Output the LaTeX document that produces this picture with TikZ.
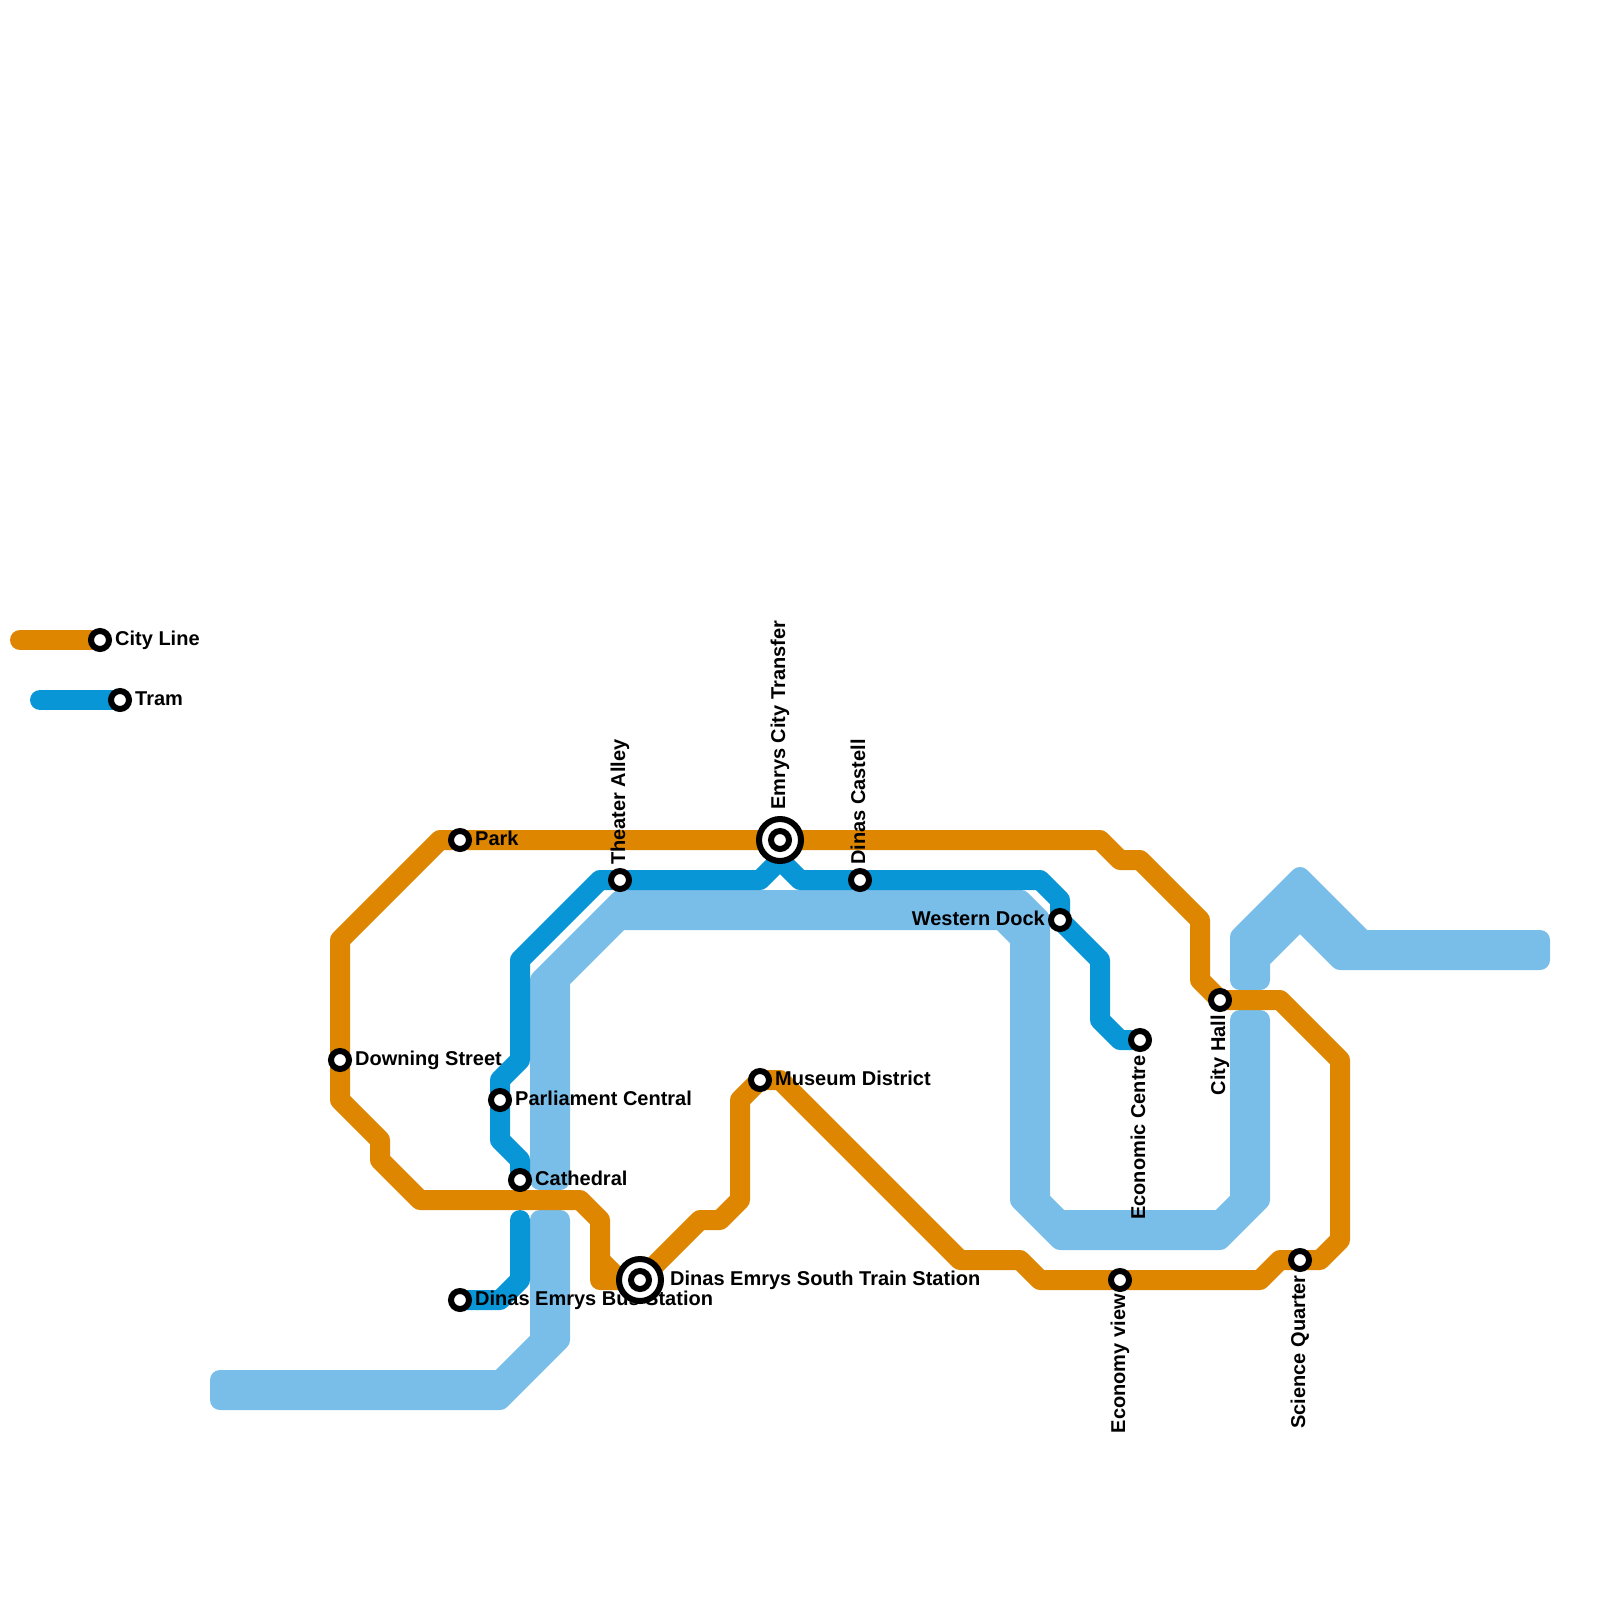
\documentclass[tikz,border=0pt]{standalone}
\usepackage{fontspec}
\setmainfont{Liberation Sans}
\usepackage{tikz}
\usetikzlibrary{positioning}
\definecolor{cityline}{HTML}{DF8600}
\definecolor{tramline}{HTML}{0896D7}
\definecolor{wideline}{HTML}{79BDE9}

\begin{document}
\begin{tikzpicture}[
    x=1pt, y=-1pt,
    city/.style={draw=cityline, line width=20pt, line cap=round, line join=round},
    tram/.style={draw=tramline, line width=20pt, line cap=round, line join=round},
    wide/.style={draw=wideline, line width=20pt, line cap=round, line join=round},
    widemid/.style={wide, line cap=rect},
    stop/.style={circle, draw=black, fill=white, line width=6pt, minimum size=18pt, inner sep=0pt},
    bigstop/.style={circle, draw=black, fill=white, line width=6pt, minimum size=42pt, inner sep=0pt},
    stoplabel/.style={inner sep=0pt, text height=14pt, text depth=0pt, font=\fontsize{20}{24}\selectfont\bfseries},
    uplabel/.style={stoplabel, rotate=90, anchor=west},
    downlabel/.style={stoplabel, rotate=90, anchor=east}
]
\useasboundingbox (0,0) rectangle (1600,1600);

\coordinate (cityleg) at (100,640);
\coordinate (tramleg) at (120,700);
\coordinate (park) at (460,840);
\coordinate (downing) at (340,1060);
\coordinate (parliament) at (500,1100);
\coordinate (cathedral) at (520,1180);
\coordinate (busstation) at (460,1300);
\coordinate (trainstation) at (640,1280);
\coordinate (theater) at (620,880);
\coordinate (transfer) at (780,840);
\coordinate (castell) at (860,880);
\coordinate (museum) at (760,1080);
\coordinate (dock) at (1060,920);
\coordinate (economic) at (1140,1040);
\coordinate (economy) at (1120,1280);
\coordinate (cityhall) at (1220,1000);
\coordinate (science) at (1300,1260);

\draw[wide] (220,1380) -- (500,1380) -- (540,1340) -- (540,1220);
\draw[widemid] (220,1390) -- (500,1390) -- (550,1340) -- (550,1220);
\draw[wide] (220,1400) -- (500,1400) -- (560,1340) -- (560,1220);

\draw[wide] (540,1180) -- (540,980) -- (620,900) -- (1021,900) -- (1040,919) -- (1040,1200) -- (1060,1220) -- (1220,1220) -- (1240,1200) -- (1240,1020);
\draw[widemid] (550,1180) -- (550,980) -- (620,910) -- (1010,910) -- (1030,930) -- (1030,1200) -- (1060,1230) -- (1220,1230) -- (1250,1200) -- (1250,1020);
\draw[wide] (560,1180) -- (560,980) -- (620,920) -- (1001,920) -- (1020,939) -- (1020,1200) -- (1060,1240) -- (1220,1240) -- (1260,1200) -- (1260,1020);

\draw[wide] (1240,980) -- (1240,937) -- (1300,877) -- (1363,940) -- (1540,940);
\draw[widemid] (1250,980) -- (1250,950) -- (1300,900) -- (1350,950) -- (1540,950);
\draw[wide] (1260,980) -- (1260,960) -- (1300,920) -- (1340,960) -- (1540,960);

\draw[tram] (40,700) -- (tramleg);
\draw[tram] (cathedral) -- (520,1160) -- (500,1140) -- (parliament) -- (500,1080) -- (520,1060) -- (520,960) -- (600,880) -- (theater) -- (760,880) -- (780,860) -- (800,880) -- (castell) -- (1040,880) -- (1060,900) -- (dock) -- (1100,960) -- (1100,1020) -- (1120,1040) -- (economic);
\draw[tram] (520,1220) -- (520,1280) -- (500,1300) -- (busstation);

\draw[city] (20,640) -- (cityleg);
\draw[city] (trainstation) -- (600,1280) -- (600,1220) -- (580,1200) -- (420,1200) -- (380,1160) -- (380,1140) -- (340,1100) -- (downing) -- (340,940) -- (440,840) -- (park) -- (transfer) -- (1100,840) -- (1120,860) -- (1140,860) -- (1200,920) -- (1200,980) -- (cityhall) -- (1280,1000) -- (1340,1060) -- (1340,1240) -- (1320,1260) -- (science) -- (1280,1260) -- (1260,1280) -- (economy) -- (1040,1280) -- (1020,1260) -- (960,1260) -- (780,1080) -- (museum) -- (740,1100) -- (740,1200) -- (720,1220) -- (700,1220) -- (trainstation);
\draw[city] (600,1260) -- (620,1280);

\node[stoplabel, right=15pt of cityleg, yshift=2pt] (citylegname) {City Line};
\node[stoplabel, right=15pt of tramleg, yshift=2pt] (tramlegname) {Tram};
\node[stoplabel, right=15pt of park, yshift=2pt] (parkname) {Park};
\node[stoplabel, right=15pt of downing, yshift=2pt] (downingname) {Downing Street};
\node[stoplabel, right=15pt of parliament, yshift=2pt] (parliamentname) {Parliament Central};
\node[stoplabel, right=15pt of cathedral, yshift=2pt] (cathedralname) {Cathedral};
\node[stoplabel, right=15pt of busstation, yshift=2pt] (busname) {Dinas Emrys Bus Station};
\node[stoplabel, right=30pt of trainstation, yshift=2pt] (trainname) {Dinas Emrys South Train Station};
\node[stoplabel, right=15pt of museum, yshift=2pt] (museumname) {Museum District};
\node[stoplabel, left=15pt of dock, yshift=2pt] (dockname) {Western Dock};
\node[above=15pt of theater, xshift=-2pt, uplabel] (theatername) {Theater Alley};
\node[above=30pt of transfer, xshift=-2pt, uplabel] (transfername) {Emrys City Transfer};
\node[above=15pt of castell, xshift=-2pt, uplabel] (castellname) {Dinas Castell};
\node[below=15pt of economic, xshift=-2pt, downlabel] (economicname) {Economic Centre};
\node[below=15pt of cityhall, xshift=-2pt, downlabel] (cityhallname) {City Hall};
\node[below=14pt of economy, xshift=-2pt, downlabel] (economyname) {Economy view};
\node[below=15pt of science, xshift=-2pt, downlabel] (sciencename) {Science Quarter};

\node[stop] at (cityleg) {};
\node[stop] at (tramleg) {};
\node[stop] at (park) {};
\node[stop] at (downing) {};
\node[stop] at (parliament) {};
\node[stop] at (cathedral) {};
\node[stop] at (busstation) {};
\node[stop] at (theater) {};
\node[stop] at (castell) {};
\node[stop] at (museum) {};
\node[stop] at (dock) {};
\node[stop] at (economic) {};
\node[stop] at (economy) {};
\node[stop] at (cityhall) {};
\node[stop] at (science) {};
\node[bigstop] at (trainstation) {};
\node[stop] at (trainstation) {};
\node[bigstop] at (transfer) {};
\node[stop] at (transfer) {};
\end{tikzpicture}
\end{document}
